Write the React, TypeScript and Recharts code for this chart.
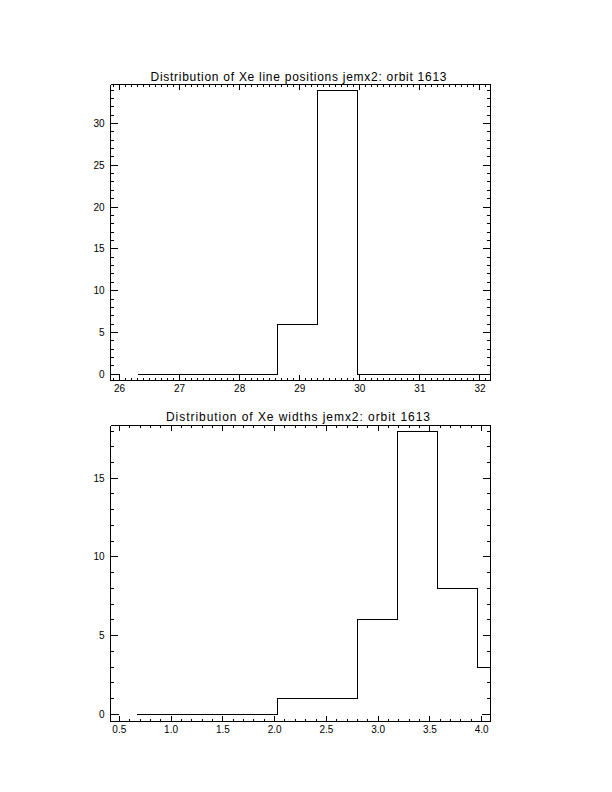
import { LineChart, Line, XAxis, YAxis } from 'recharts';

// Xe line position histogram: bin centres and counts
const posCenters = [26.30, 26.97, 27.63, 28.30, 28.96, 29.63, 30.30, 30.96, 31.63, 32.29];
const posCounts = [0, 0, 0, 0, 6, 34, 0, 0, 0, 0];
const posXLabels = [26, 27, 28, 29, 30, 31, 32];
const posYLabels = [0, 5, 10, 15, 20, 25, 30];
const posXDomain = [25.85, 32.175];
const posYDomain = [-0.74, 34.66];

// Xe width histogram: bin centres and counts
const widthCenters = [0.674, 1.060, 1.447, 1.833, 2.219, 2.605, 2.992, 3.378, 3.764, 4.150];
const widthCounts = [0, 0, 0, 0, 1, 1, 6, 18, 8, 3];
const widthXLabels = [0.5, 1.0, 1.5, 2.0, 2.5, 3.0, 3.5, 4.0];
const widthYLabels = [0, 5, 10, 15];
const widthXDomain = [0.415, 4.085];
const widthYDomain = [-0.457, 18.35];

const FONT = '"Liberation Sans", Arial, sans-serif';
const CHART_W = 612;
const CHART_H = 396;
const PLOT_W = 380;
const PLOT_H = 296;

// minor ticks every `step` inside the domain
function minorTicks(domain: number[], step: number) {
  const out: number[] = [];
  const start = Math.ceil(domain[0] / step - 1e-9);
  const end = Math.floor(domain[1] / step + 1e-9);
  for (let i = start; i <= end; i++) out.push(Math.round(i * step * 1000) / 1000);
  return out;
}

type Side = 'bottom' | 'top' | 'left' | 'right';

function makeTick(side: Side, majors: number[], fmt: (v: number) => string, majorLen: number, minorLen: number) {
  return (props: any) => {
    const { x, y, payload } = props;
    const v = payload.value as number;
    const isMajor = majors.some((m) => Math.abs(m - v) < 1e-6);
    const len = isMajor ? majorLen : minorLen;
    let x2 = x;
    let y2 = y;
    if (side === 'bottom') y2 = y - len;
    if (side === 'top') y2 = y + len;
    if (side === 'left') x2 = x + len;
    if (side === 'right') x2 = x - len;
    return (
      <g>
        <line x1={x} y1={y} x2={x2} y2={y2} stroke="#000" strokeWidth={1} shapeRendering="crispEdges" />
        {isMajor && side === 'bottom' && (
          <text x={x} y={y + 11} textAnchor="middle" fontSize={10} fontFamily={FONT} fill="#000">
            {fmt(v)}
          </text>
        )}
        {isMajor && side === 'left' && (
          <text x={x - 6} y={y} dy="0.35em" textAnchor="end" fontSize={10} fontFamily={FONT} fill="#000">
            {fmt(v)}
          </text>
        )}
      </g>
    );
  };
}

interface HistProps {
  centers: number[];
  counts: number[];
  xLabels: number[];
  yLabels: number[];
  xDomain: number[];
  yDomain: number[];
  xStep: number;
  fmtX: (v: number) => string;
  plotTop: number;
}

function Histogram({ centers, counts, xLabels, yLabels, xDomain, yDomain, xStep, fmtX, plotTop }: HistProps) {
  const data = centers.map((c, i) => ({ x: c, y: counts[i] }));
  // zero-level stubs between the frame and the outer major ticks
  const stub = [
    { x: xDomain[0], y: 0 },
    { x: xLabels[0], y: 0 },
    { x: (xLabels[0] + xLabels[xLabels.length - 1]) / 2, y: null },
    { x: xLabels[xLabels.length - 1], y: 0 },
    { x: xDomain[1], y: 0 },
  ];
  const xt = minorTicks(xDomain, xStep);
  const yt = minorTicks(yDomain, 1);
  const fmtY = (v: number) => String(v);
  const xMajor = 0.02 * PLOT_H;
  const yMajor = 0.02 * PLOT_W;
  const axisLine = { stroke: '#000', strokeWidth: 1, shapeRendering: 'crispEdges' };
  const left = 110.5;
  return (
    <LineChart
      width={CHART_W}
      height={CHART_H}
      margin={{
        top: plotTop - 1,
        bottom: CHART_H - plotTop - PLOT_H - 1,
        left: left - 1,
        right: CHART_W - left - PLOT_W - 1,
      }}
    >
      <XAxis
        xAxisId="b"
        type="number"
        dataKey="x"
        domain={xDomain}
        allowDataOverflow
        ticks={xt}
        interval={0}
        height={1}
        tickSize={0}
        tickMargin={0}
        tickLine={false}
        axisLine={axisLine}
        tick={makeTick('bottom', xLabels, fmtX, xMajor, xMajor / 2)}
      />
      <XAxis
        xAxisId="t"
        orientation="top"
        type="number"
        dataKey="x"
        domain={xDomain}
        allowDataOverflow
        ticks={xt}
        interval={0}
        height={1}
        tickSize={0}
        tickMargin={0}
        tickLine={false}
        axisLine={axisLine}
        tick={makeTick('top', xLabels, fmtX, xMajor, xMajor / 2)}
      />
      <YAxis
        yAxisId="l"
        type="number"
        domain={yDomain}
        allowDataOverflow
        ticks={yt}
        interval={0}
        width={1}
        tickSize={0}
        tickMargin={0}
        tickLine={false}
        axisLine={axisLine}
        tick={makeTick('left', yLabels, fmtY, yMajor, yMajor / 2)}
      />
      <YAxis
        yAxisId="r"
        orientation="right"
        type="number"
        domain={yDomain}
        allowDataOverflow
        ticks={yt}
        interval={0}
        width={1}
        tickSize={0}
        tickMargin={0}
        tickLine={false}
        axisLine={axisLine}
        tick={makeTick('right', yLabels, fmtY, yMajor, yMajor / 2)}
      />
      <Line
        xAxisId="b"
        yAxisId="l"
        data={stub}
        dataKey="y"
        type="linear"
        stroke="#000"
        strokeWidth={1}
        dot={false}
        connectNulls={false}
        isAnimationActive={false}
        style={{ shapeRendering: 'crispEdges' }}
      />
      <Line
        xAxisId="b"
        yAxisId="l"
        data={data}
        dataKey="y"
        type="step"
        stroke="#000"
        strokeWidth={1}
        dot={false}
        isAnimationActive={false}
        style={{ shapeRendering: 'crispEdges' }}
      />
    </LineChart>
  );
}

export default function App() {
  return (
    <div style={{ position: 'absolute', left: 0, top: 0, width: 612, height: 792, background: '#fff' }}>
      <div style={{ position: 'absolute', left: 0, top: 0 }}>
        <Histogram
          centers={posCenters}
          counts={posCounts}
          xLabels={posXLabels}
          yLabels={posYLabels}
          xDomain={posXDomain}
          yDomain={posYDomain}
          xStep={0.1}
          fmtX={(v) => String(v)}
          plotTop={84.5}
        />
      </div>
      <div style={{ position: 'absolute', left: 0, top: CHART_H }}>
        <Histogram
          centers={widthCenters}
          counts={widthCounts}
          xLabels={widthXLabels}
          yLabels={widthYLabels}
          xDomain={widthXDomain}
          yDomain={widthYDomain}
          xStep={0.1}
          fmtX={(v) => v.toFixed(1)}
          plotTop={29.5}
        />
      </div>
      <svg width={612} height={792} style={{ position: 'absolute', left: 0, top: 0, pointerEvents: 'none' }}>
        <text x={298.5} y={80.5} textAnchor="middle" textLength={296} lengthAdjust="spacing" fontSize={12} fontFamily={FONT} fill="#000">
          Distribution of Xe line positions jemx2: orbit 1613
        </text>
        <text x={298} y={421} textAnchor="middle" textLength={264} lengthAdjust="spacing" fontSize={12} fontFamily={FONT} fill="#000">
          Distribution of Xe widths jemx2: orbit 1613
        </text>
      </svg>
    </div>
  );
}
